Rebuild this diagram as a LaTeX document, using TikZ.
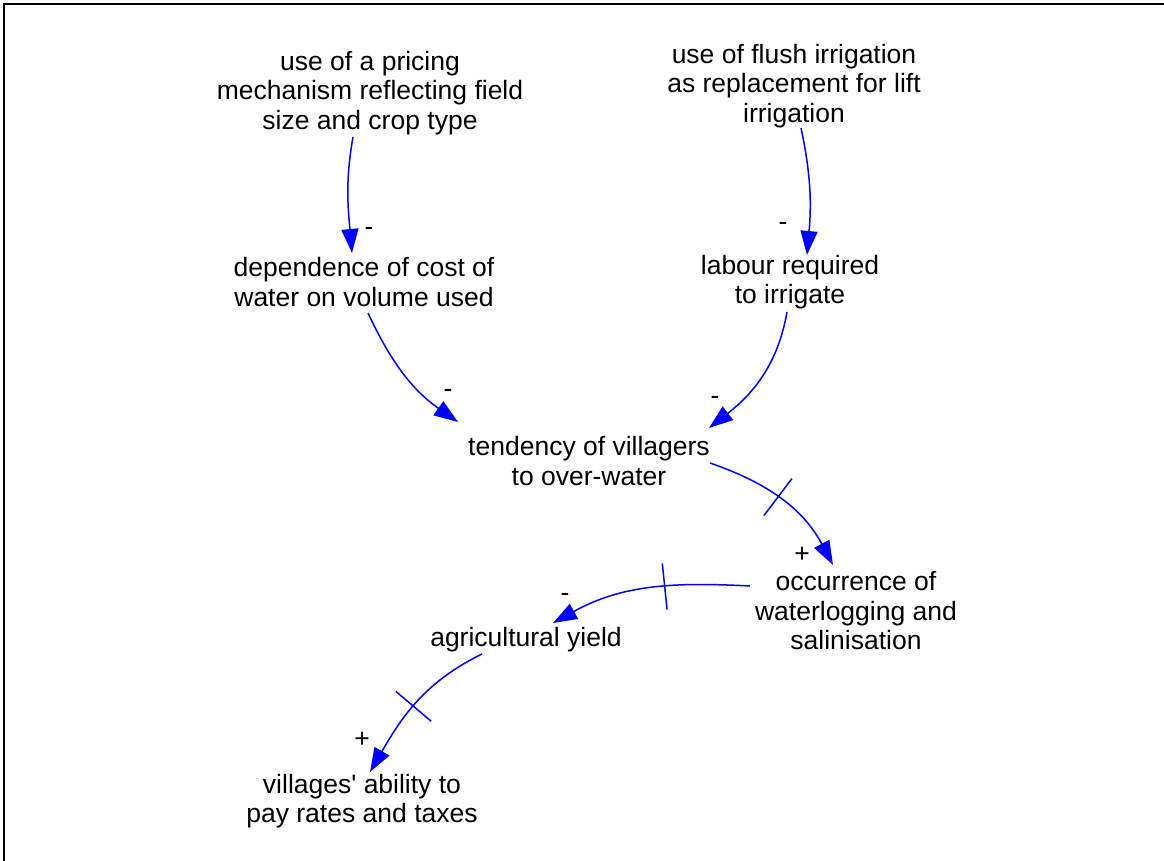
\documentclass[tikz,border=0pt]{standalone}
\usepackage{fontspec}
\setmainfont{Liberation Sans}[Ligatures=TeXOff]
\usetikzlibrary{arrows.meta}
\begin{document}
\begin{tikzpicture}[x=1pt,y=-1pt,
  var/.style={font=\fontsize{26.5}{29.5}\selectfont, align=center, inner sep=0pt},
  link/.style={blue, line width=1.5pt, -{Triangle[length=24pt,width=17pt]}},
  pol/.style={font=\fontsize{26.5}{29.5}\selectfont, anchor=base, inner sep=0pt},
  hashpt/.style={sloped, minimum height=45pt, minimum width=0pt, inner sep=0pt},
  hash/.style={blue, line width=1.5pt},
  frame/.style={black, line width=1.7pt}]
\useasboundingbox (0,0) rectangle (1164,861);
\draw[frame] (4,861) -- (4,4) -- (1164,4);

\node[var] (p) at (370,93) {use of a pricing\\mechanism reflecting field\\size and crop type};
\node[var] (f) at (794,86) {use of flush irrigation\\as replacement for lift\\irrigation};
\node[var] (d) at (364,282) {dependence of cost of\\water on volume used};
\node[var] (l) at (790,282) {labour required\\to irrigate};
\node[var] (t) at (589,461) {tendency of villagers\\to over-water};
\node[var] (o) at (856,611) {occurrence of\\waterlogging and\\salinisation};
\node[var] (a) at (526,640) {agricultural yield};
\node[var] (v) at (362,801) {villages' ability to\\pay rates and taxes};

\draw[link] ([shift={(-17,44)}]p.center) to[out=-100,in=95] ([shift={(-12,-29)}]d.center);
\draw[link] ([shift={(7,42)}]f.center) to[out=-78,in=85] ([shift={(17,-27)}]l.center);
\draw[link] ([shift={(4,31)}]d.center) to[out=-65,in=145] ([shift={(-131,-39)}]t.center);
\draw[link] ([shift={(-3,30)}]l.center) to[out=-100,in=38] ([shift={(120,-33)}]t.center);
\draw[link] ([shift={(121,2)}]t.center) to[out=-19,in=118] node[hashpt,pos=0.46] (h1) {} ([shift={(-23,-46)}]o.center);
\draw[link] ([shift={(-106,-25)}]o.center) to[out=177,in=29] node[hashpt,pos=0.41] (h2) {} ([shift={(27,-17)}]a.center);
\draw[link] ([shift={(-44,14)}]a.center) to[out=-154,in=60] node[hashpt,pos=0.53] (h3) {} ([shift={(8,-29)}]v.center);

\draw[hash] (h1.north) -- (h1.south);
\draw[hash] (h2.north) -- (h2.south);
\draw[hash] (h3.north) -- (h3.south);

\node[pol] (s1) at (369,235) {-};
\node[pol] (s2) at (783,230) {-};
\node[pol] (s3) at (448,397) {-};
\node[pol] (s4) at (715,404) {-};
\node[pol] (s5) at (802,562) {+};
\node[pol] (s6) at (565,601) {-};
\node[pol] (s7) at (362,747) {+};
\end{tikzpicture}
\end{document}
